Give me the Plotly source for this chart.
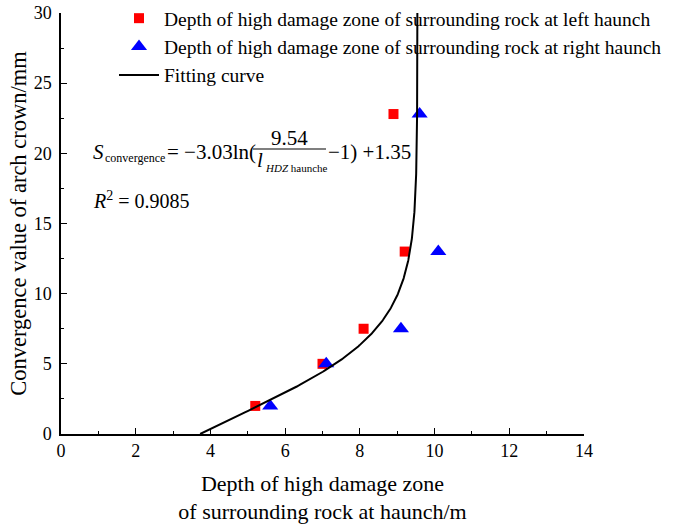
import numpy as np
import plotly.graph_objects as go

# Data
left_x = [5.2, 7.0, 8.1, 9.2, 8.9]
left_y = [2.0, 5.0, 7.5, 13.0, 22.8]
right_x = [5.6, 7.1, 9.1, 10.1, 9.6]
right_y = [2.0, 5.0, 7.5, 13.0, 22.8]

# Fitting curve coefficients shown in the chart: S = -a ln(b/l - 1) + c
fit_a = 3.03
fit_b = 9.54
fit_c = 1.35
fit_s = np.linspace(0, 30, 400)
fit_l = fit_b / (1.0 + np.exp((fit_c - fit_s) / fit_a))

W, H = 675, 526
ML, MR, MT, MB = 61, 91, 13, 92
PW, PH = W - ML - MR, H - MT - MB

def px(x):
    return (x - ML) / PW

def py(y):
    return (H - MB - y) / PH

FONT = "Liberation Serif, Times New Roman, serif"

fig = go.Figure()
fig.add_trace(go.Scatter(
    x=left_x, y=left_y, mode="markers",
    name="Depth of high damage zone of surrounding rock at left haunch",
    marker=dict(symbol="square", color="#ff0000", size=10, line=dict(width=0)),
))
fig.add_trace(go.Scatter(
    x=right_x, y=right_y, mode="markers",
    name="Depth of high damage zone of surrounding rock at right haunch",
    marker=dict(symbol="triangle-up", color="#0000ff", size=14, line=dict(width=0)),
))
fig.add_trace(go.Scatter(
    x=fit_l, y=fit_s, mode="lines", name="Fitting curve",
    line=dict(color="black", width=2),
))

fig.update_layout(
    width=W, height=H,
    margin=dict(l=ML, r=MR, t=MT, b=MB, autoexpand=False),
    paper_bgcolor="white", plot_bgcolor="white",
    font=dict(family=FONT, color="black", size=18),
    showlegend=True,
    legend=dict(x=px(114), y=py(-1), xanchor="left", yanchor="top",
                bgcolor="rgba(0,0,0,0)", font=dict(size=19.5, family=FONT),
                tracegroupgap=0, itemwidth=40),
    xaxis=dict(range=[0, 14], tickmode="array", tickvals=[0, 2, 4, 6, 8, 10, 12, 14],
               ticks="inside", ticklen=6, tickwidth=1.2, tickcolor="black",
               showline=True, linecolor="black", linewidth=1.5, mirror=False,
               showgrid=False, zeroline=False, automargin=False,
               minor=dict(dtick=1, ticks="inside", ticklen=3, tickcolor="black", tickwidth=1.2),
               tickfont=dict(size=18, family=FONT),
               title=dict(text="Depth of high damage zone<br>of surrounding rock at haunch/m",
                          font=dict(size=22, family=FONT), standoff=15)),
    yaxis=dict(range=[0, 30], tickmode="array", tickvals=[0, 5, 10, 15, 20, 25, 30],
               ticks="inside", ticklen=6, tickwidth=1.2, tickcolor="black",
               showline=True, linecolor="black", linewidth=1.5, mirror=False,
               showgrid=False, zeroline=False, automargin=False,
               minor=dict(dtick=2.5, ticks="inside", ticklen=3, tickcolor="black", tickwidth=1.2),
               tickfont=dict(size=18, family=FONT), ticklabelstandoff=4,
               title=dict(text="Convergence value of arch crown/mm",
                          font=dict(size=22.5, family=FONT), standoff=1)),
)

def ann(text, x, y, size, xanchor="left", yanchor="middle"):
    fig.add_annotation(text=text, x=px(x), y=py(y), xref="paper", yref="paper",
                       showarrow=False, xanchor=xanchor, yanchor=yanchor,
                       font=dict(size=size, family=FONT, color="black"))

# Equation
ann("<i>S</i>", 91, 152, 21)
ann("convergence", 103, 158, 12)
ann("= \u22123.03ln(", 165, 152, 21)
ann("9.54", 289, 138, 21, xanchor="center")
fig.add_shape(type="line", xref="paper", yref="paper",
              x0=px(253), x1=px(326), y0=py(149), y1=py(149),
              line=dict(color="black", width=1.2))
ann("<i>l</i>", 255, 160, 21)
ann("<i>HDZ</i> haunche", 263, 168, 11)
ann("\u22121) +1.35", 326, 152, 21)
ann("<i>R</i><sup>2</sup> = 0.9085", 91, 200, 20)

fig.write_html("out.html")
